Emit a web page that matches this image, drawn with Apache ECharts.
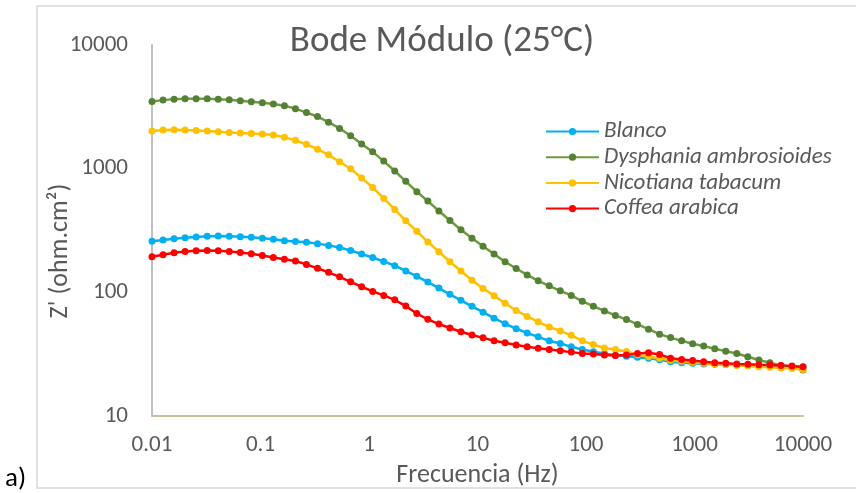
<!DOCTYPE html>
<html>
<head>
<meta charset="utf-8">
<script src="https://cdn.jsdelivr.net/npm/echarts@6/dist/echarts.min.js"></script>
<style>
  html, body { margin: 0; padding: 0; background: #ffffff; }
  #chart { width: 856px; height: 493px; }
</style>
</head>
<body>
<div id="chart"></div>
<script>
// Frequency sweep (Hz), low to high
const freqHz = [
  0.01, 0.01264, 0.01597, 0.02018, 0.02551, 0.03224, 0.04075, 0.0515, 0.0651, 0.08228,
  0.104, 0.1314, 0.1661, 0.2099, 0.2653, 0.3353, 0.4238, 0.5356, 0.6769, 0.8555,
  1.081, 1.367, 1.727, 2.183, 2.759, 3.487, 4.407, 5.57, 7.039, 8.896,
  11.24, 14.21, 17.96, 22.7, 28.69, 36.26, 45.82, 57.91, 73.19, 92.5,
  116.9, 147.7, 186.7, 236.0, 298.2, 376.9, 476.4, 602.1, 760.9, 961.7,
  1215, 1536, 1941, 2453, 3101, 3919, 4953, 6260, 7911, 10000
];

// |Z| (ohm.cm²) for each sample
const blanco = [
  259, 265.5, 271.9, 277, 280.5, 284.1, 285.8, 284.1, 282, 278.9,
  273.8, 268.8, 262, 258.2, 254.4, 247.9, 239.9, 230.4, 218, 204.4,
  191.6, 177.6, 164.4, 149.1, 134.8, 121.1, 108.3, 96.4, 86.3, 77.1,
  69.2, 61.9, 55.8, 50.9, 47.0, 43.7, 40.6, 38.6, 36.3, 34.6,
  33.1, 32.1, 31.0, 30.5, 29.9, 29.4, 28.6, 27.5, 27.0, 26.7,
  26.4, 26.2, 26.1, 25.9, 25.7, 25.6, 25.4, 25.3, 25.1, 24.9
];
const dysphania = [
  3499, 3584, 3651, 3678, 3678, 3678, 3651, 3611, 3545, 3480,
  3417, 3330, 3233, 3059, 2842, 2641, 2377, 2117, 1847, 1585,
  1368, 1152, 958, 791, 651, 547, 455, 381, 321, 274,
  236, 204, 177, 156, 138.5, 124, 113, 103, 94.6, 84.7,
  77.3, 70.9, 65.1, 60.5, 55.1, 50.4, 45.9, 43.1, 40.6, 38.4,
  36.8, 35.0, 33.5, 32.1, 30.2, 28.4, 27.0, 25.7, 24.9, 23.6
];
const nicotiana = [
  2014, 2051, 2063, 2051, 2040, 2014, 1988, 1966, 1941, 1930,
  1905, 1871, 1793, 1696, 1576, 1438, 1294, 1138, 1000, 843,
  705, 575, 468, 379, 312, 256, 213, 177, 149, 125.4,
  107.6, 94.1, 81.7, 71.4, 63.9, 57.9, 52.5, 48.8, 45.0, 40.6,
  37.9, 35.5, 34.6, 33.3, 31.3, 30.2, 29.3, 28.3, 27.7, 27.2,
  26.8, 26.4, 26.1, 25.7, 25.4, 25.1, 24.8, 24.5, 24.2, 23.8
];
const coffea = [
  194.1, 201.4, 208.9, 213.9, 216.8, 218, 216.8, 213.9, 210.1, 205.1,
  198.8, 191.6, 185.4, 179.3, 168.4, 156.4, 145.4, 133.6, 121.8, 111.1,
  101.9, 94.6, 87.1, 77.5, 67.5, 60.6, 55.5, 51.5, 48.1, 45.3,
  42.9, 40.6, 39.1, 37.5, 36.3, 35.4, 34.6, 33.7, 32.9, 32.1,
  31.7, 31.2, 30.9, 31.2, 32.1, 32.5, 31.5, 29.4, 28.7, 28.1,
  27.5, 27.0, 26.7, 26.4, 26.2, 26.0, 25.9, 25.7, 25.4, 25.0
];

const seriesNames = ['Blanco', 'Dysphania ambrosioides', 'Nicotiana tabacum', 'Coffea arabica'];
const xTickLabels = ['0.01', '0.1', '1', '10', '100', '1000', '10000'];
const yTickLabels = ['10', '100', '1000', '10000'];

const FONT = 'Carlito, Lato, sans-serif';
const TEXT = '#595959';

function pairs(values) {
  return freqHz.map((f, i) => [f, values[i]]);
}

function lineSeries(name, values, lineColor, dotColor) {
  return {
    name: name,
    type: 'line',
    data: pairs(values),
    symbol: 'circle',
    symbolSize: 7,
    showAllSymbol: true,
    smooth: false,
    lineStyle: { color: lineColor, width: 2.5 },
    itemStyle: { color: dotColor, borderWidth: 0 },
    emphasis: { disabled: true }
  };
}

const chart = echarts.init(document.getElementById('chart'), null, { renderer: 'canvas' });

chart.setOption({
  animation: false,
  backgroundColor: '#ffffff',
  title: {
    text: 'Bode Módulo (25°C)',
    left: 437,
    top: 18,
    textAlign: 'center',
    textStyle: { fontFamily: FONT, fontSize: 37, fontWeight: 'normal', color: TEXT }
  },
  legend: {
    orient: 'vertical',
    left: 545,
    top: 120,
    padding: 0,
    itemWidth: 53,
    itemHeight: 9,
    itemGap: 2.7,
    data: seriesNames,
    textStyle: { fontFamily: FONT, fontSize: 23, fontStyle: 'italic', color: TEXT, lineHeight: 23 }
  },
  grid: { left: 152, right: 53, top: 45, bottom: 73, containLabel: false },
  xAxis: {
    type: 'log',
    logBase: 10,
    min: 0.01,
    max: 10000,
    name: 'Frecuencia (Hz)',
    nameLocation: 'middle',
    nameGap: 38,
    nameTextStyle: { fontFamily: FONT, fontSize: 26, color: TEXT },
    axisLine: { show: true, lineStyle: { color: '#c9c09b', width: 2 } },
    axisTick: { show: false },
    minorTick: { show: false },
    splitLine: { show: false },
    axisLabel: {
      margin: 18,
      fontFamily: FONT,
      fontSize: 23,
      color: TEXT,
      formatter: v => xTickLabels[Math.round(Math.log10(v)) + 2]
    }
  },
  yAxis: {
    type: 'log',
    logBase: 10,
    min: 10,
    max: 10000,
    axisLine: { show: true, lineStyle: { color: '#bfbfbf', width: 2 } },
    axisTick: { show: false },
    minorTick: { show: false },
    splitLine: { show: false },
    axisLabel: {
      margin: 24,
      fontFamily: FONT,
      fontSize: 23,
      color: TEXT,
      formatter: v => yTickLabels[Math.round(Math.log10(v)) - 1]
    }
  },
  graphic: [
    {
      type: 'rect',
      shape: { x: 37, y: 6, width: 830, height: 482 },
      style: { fill: null, stroke: '#d9d9d9', lineWidth: 1.5 },
      silent: true,
      z: -1
    },
    {
      // vertical axis title
      type: 'text',
      x: 60,
      y: 251,
      rotation: Math.PI / 2,
      style: {
        text: "Z' (ohm.cm²)",
        fontFamily: FONT,
        fontSize: 26,
        fill: TEXT,
        align: 'center',
        verticalAlign: 'middle'
      }
    },
    {
      type: 'text',
      left: 5,
      top: 466,
      style: { text: 'a)', fontFamily: FONT, fontSize: 27, fill: '#000000' }
    }
  ],
  series: [
    lineSeries(seriesNames[0], blanco, '#00b0f0', '#00b0f0'),
    lineSeries(seriesNames[1], dysphania, '#6f9a3e', '#548235'),
    lineSeries(seriesNames[2], nicotiana, '#ffc000', '#ffc000'),
    lineSeries(seriesNames[3], coffea, '#ff0000', '#ff0000')
  ]
});
</script>
</body>
</html>
